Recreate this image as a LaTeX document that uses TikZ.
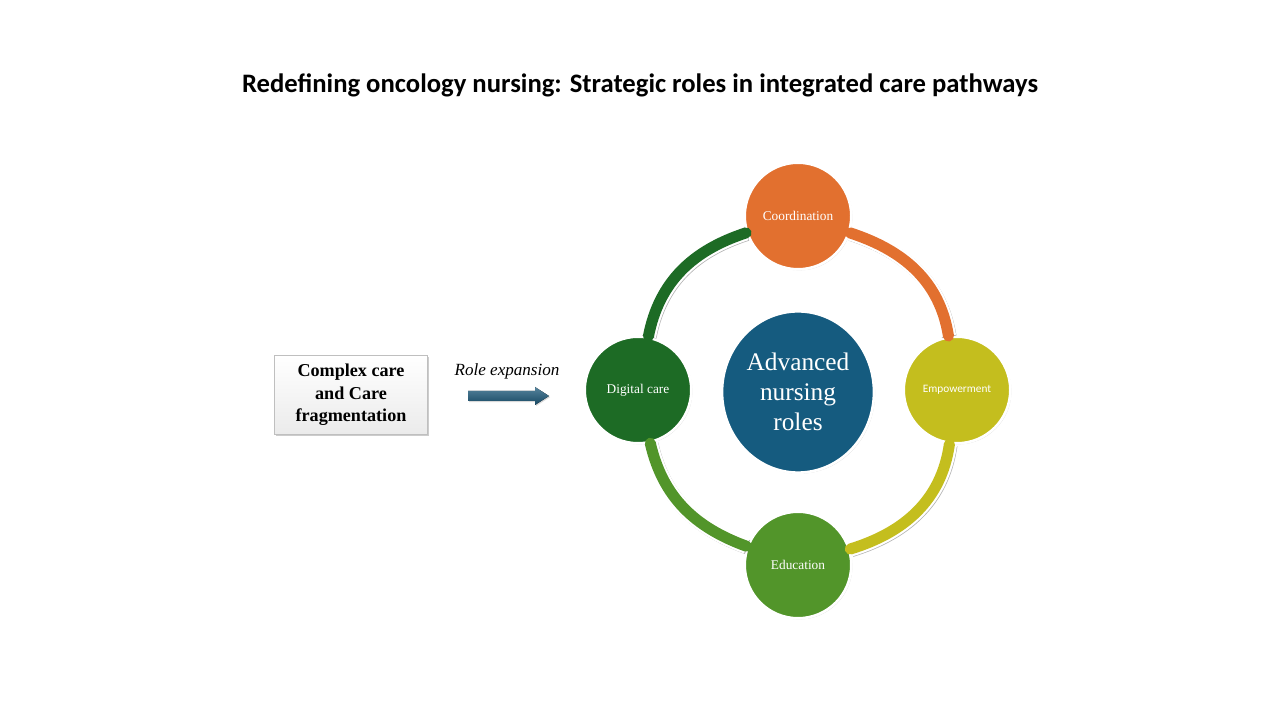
\documentclass[tikz,border=0pt]{standalone}
\usepackage{fontspec}
\setmainfont{Liberation Serif}
\newfontfamily\titlefont{Carlito}
\usetikzlibrary{shapes.geometric,shadows}

\definecolor{orangeC}{HTML}{E2702F}
\definecolor{yellowC}{HTML}{C4BE1E}
\definecolor{lgreenC}{HTML}{52952A}
\definecolor{dgreenC}{HTML}{1D6B25}
\definecolor{blueC}{HTML}{155B7F}
\definecolor{arrowC}{HTML}{1D5A7B}

\tikzset{every picture/.style={line width=0.75pt}}
\tikzset{
  role/.style={circle, fill=#1, draw=white, line width=2pt, minimum size=80pt, inner sep=0pt,
    text=white, align=center, drop shadow={opacity=0.35, shadow xshift=0.8pt, shadow yshift=-0.8pt}},
  ring/.style={line cap=round,
    preaction={draw=black!30, line width=11pt, transform canvas={xshift=0.6pt, yshift=-0.6pt}},
    preaction={draw=white, line width=11.5pt},
    draw=#1, line width=8.3pt},
}

\begin{document}
\begin{tikzpicture}[x=0.75pt,y=0.75pt]
	\useasboundingbox (0,0) rectangle (1280,720);

	% Title
	\node (title) at (640,635) {\titlefont\bfseries\fontsize{20}{24}\selectfont Redefining oncology nursing: Strategic roles in integrated care pathways};

	% Left box
	\node (cplx) [draw=black!25, top color=white, bottom color=black!8, minimum width=114.75pt, minimum height=59.25pt,
	  align=center, inner sep=0pt, drop shadow={opacity=0.4, shadow xshift=1pt, shadow yshift=-1pt},
	  font=\bfseries\fontsize{13.6}{17}\selectfont] at (351,325) {Complex care\\and Care\\fragmentation};

	% Text Node
	\node (expn) at (507,349) {\fontsize{12.8}{15}\selectfont\itshape Role expansion};
	% Block arrow
	\fill [top color=arrowC!75!white, bottom color=arrowC!80!black, drop shadow={opacity=0.3, shadow xshift=0.8pt, shadow yshift=-0.8pt}]
	  (468,319) -- (535,319) -- (535,315) -- (549,324) -- (535,333) -- (535,329) -- (468,329) -- cycle;

	% Outer circles
	\node (coord) [role=orangeC, font=\fontsize{10}{12}\selectfont] at (798,504) {Coordination};
	\node (dig)   [role=dgreenC, font=\fontsize{10}{12}\selectfont] at (638,330) {Digital care};
	\node (emp)   [role=yellowC, font=\titlefont\fontsize{8.5}{10}\selectfont] at (957,330) {Empowerment};
	\node (edu)   [role=lgreenC, font=\fontsize{10}{12}\selectfont] at (798,155) {Education};

	% Ring arcs
	\draw [ring=dgreenC] (dig) to[out=79,in=198] (coord);
	\draw [ring=orangeC] (coord) to[out=-18,in=99] (emp);
	\draw [ring=yellowC] (emp) to[out=262,in=17] (edu);
	\draw [ring=lgreenC] (edu) to[out=160,in=283] (dig);

	% Centre
	\node (adv) [ellipse, fill=blueC, draw=white, line width=2pt, minimum width=114pt, minimum height=121pt, inner sep=0pt,
	  text=white, align=center, drop shadow={opacity=0.35, shadow xshift=0.8pt, shadow yshift=-0.8pt},
	  font=\fontsize{19}{22.5}\selectfont] at (798,328) {Advanced\\nursing\\roles};

\end{tikzpicture}
\end{document}
